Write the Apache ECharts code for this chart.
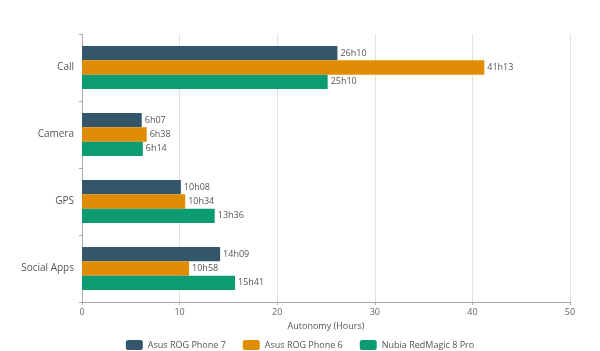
<!DOCTYPE html>
<html>
<head>
<meta charset="utf-8">
<script src="https://cdn.jsdelivr.net/npm/echarts@6/dist/echarts.min.js"></script>
<style>
  html, body { margin: 0; padding: 0; background: #fff; }
  #main { width: 600px; height: 351px; }
</style>
</head>
<body>
<div id="main"></div>
<script>
var categories = ['Call', 'Camera', 'GPS', 'Social Apps'];
var seriesNames = ['Asus ROG Phone 7', 'Asus ROG Phone 6', 'Nubia RedMagic 8 Pro'];
// autonomy in hours (decimal) and the label shown
var rog7 = [26.17, 6.12, 10.13, 14.15];
var rog7Labels = ['26h10', '6h07', '10h08', '14h09'];
var rog6 = [41.22, 6.63, 10.57, 10.97];
var rog6Labels = ['41h13', '6h38', '10h34', '10h58'];
var nubia = [25.17, 6.23, 13.6, 15.68];
var nubiaLabels = ['25h10', '6h14', '13h36', '15h41'];
var colors = ['#34566b', '#e08d05', '#0b9c72'];

var font = 'Open Sans';

function makeSeries(name, values, labels, color) {
  return {
    name: name,
    type: 'bar',
    data: values,
    barGap: '0%',
    barCategoryGap: '36%',
    itemStyle: { color: color },
    label: {
      show: true,
      position: 'right',
      distance: 3,
      color: '#555',
      fontFamily: font,
      fontSize: 9,
      formatter: function (p) { return labels[p.dataIndex]; }
    }
  };
}

var chart = echarts.init(document.getElementById('main'));
chart.setOption({
  animation: false,
  color: colors,
  grid: { left: 82, right: 30, top: 34, bottom: 49 },
  legend: {
    top: 335,
    left: 'center',
    itemWidth: 17,
    itemHeight: 10,
    itemGap: 17,
    textStyle: { color: '#555', fontFamily: font, fontSize: 9 },
    data: seriesNames
  },
  xAxis: {
    type: 'value',
    min: 0,
    max: 50,
    interval: 10,
    name: 'Autonomy (Hours)',
    nameLocation: 'middle',
    nameGap: 20,
    nameTextStyle: { color: '#555', fontFamily: font, fontSize: 9 },
    axisLine: { show: true, lineStyle: { color: '#aaa' } },
    axisTick: { show: true, length: 3, lineStyle: { color: '#aaa' } },
    axisLabel: { color: '#666', fontFamily: font, fontSize: 9, margin: 6 },
    splitLine: { show: true, lineStyle: { color: '#e2e2e2' } }
  },
  yAxis: {
    type: 'category',
    inverse: true,
    data: categories,
    axisLine: { show: true, lineStyle: { color: '#aaa' } },
    axisTick: { show: true, length: 3, lineStyle: { color: '#aaa' } },
    axisLabel: { color: '#555', fontFamily: font, fontSize: 10, margin: 8 }
  },
  series: [
    makeSeries(seriesNames[0], rog7, rog7Labels, colors[0]),
    makeSeries(seriesNames[1], rog6, rog6Labels, colors[1]),
    makeSeries(seriesNames[2], nubia, nubiaLabels, colors[2])
  ]
});
</script>
</body>
</html>
